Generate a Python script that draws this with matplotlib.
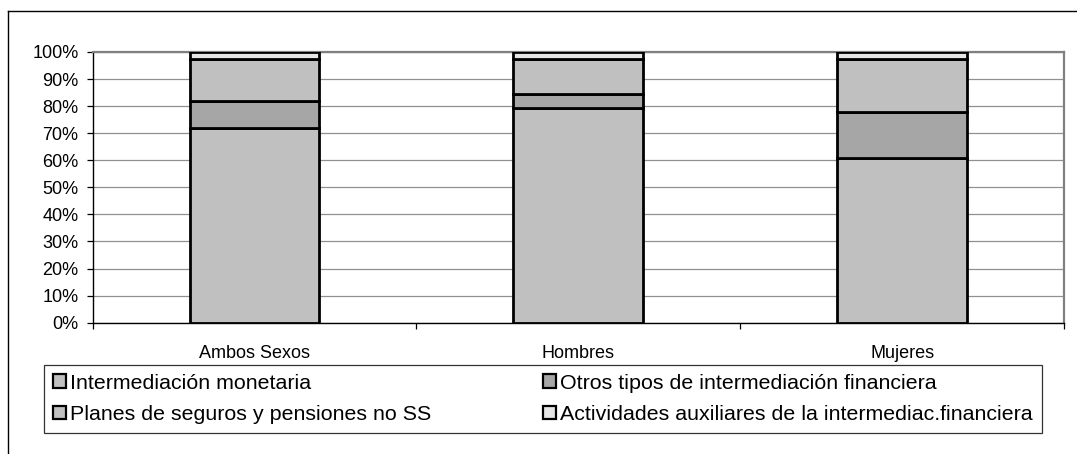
import matplotlib
matplotlib.use("Agg")
import matplotlib.pyplot as plt
from matplotlib.lines import Line2D
import numpy as np

plt.rcParams['font.family'] = ['Liberation Sans', 'DejaVu Sans']

categories = ["Ambos Sexos", "Hombres", "Mujeres"]
series_names = [
    "Intermediación monetaria",
    "Otros tipos de intermediación financiera",
    "Planes de seguros y pensiones no SS",
    "Actividades auxiliares de la intermediac.financiera",
]
intermediacion = [71.8, 79.3, 61.0]
otros = [10.0, 5.1, 16.8]
planes = [15.6, 13.0, 19.5]
actividades = [2.6, 2.6, 2.7]
series_values = [intermediacion, otros, planes, actividades]
colors = ["#C0C0C0", "#A6A6A6", "#C0C0C0", "#E6E6E6"]
yticks = list(range(0, 101, 10))

W, H = 1077, 454
fig = plt.figure(figsize=(W / 100, H / 100), dpi=100)
ax = fig.add_axes([92.5 / W, (H - 322.7) / H, (1064 - 92.5) / W, (322.7 - 52) / H])

x = np.arange(len(categories))
bottom = np.zeros(len(categories))
handles = []
for name, vals, col in zip(series_names, series_values, colors):
    b = ax.bar(x, vals, width=0.4, bottom=bottom, color=col, edgecolor="black",
               linewidth=2.0, label=name, zorder=3)
    handles.append(b)
    bottom = bottom + np.array(vals)

ax.set_xlim(-0.5, 2.5)
ax.set_ylim(0, 100)
ax.set_yticks(yticks)
ax.set_yticklabels([f"{v}%" for v in yticks], fontsize=13)
ax.yaxis.grid(True, color="#909090", linewidth=0.9, zorder=0)
ax.set_axisbelow(True)

ax.set_xticks([-0.5, 0.5, 1.5, 2.5])
ax.set_xticklabels([])
ax.set_xticks(x, minor=True)
ax.set_xticklabels(categories, minor=True, fontsize=13)
ax.tick_params(axis="x", which="minor", length=0, pad=16)
ax.tick_params(axis="x", which="major", length=4, width=0.9, direction="out")
ax.tick_params(axis="y", length=4, width=0.9, direction="out", pad=6)

for s in ["left", "bottom"]:
    ax.spines[s].set_color("black")
    ax.spines[s].set_linewidth(1.0)
for s in ["top", "right"]:
    ax.spines[s].set_color("#808080")
    ax.spines[s].set_linewidth(1.6)

# legend order: row-major as in reference
order = [0, 2, 1, 3]
leg = fig.legend([handles[i] for i in order], [series_names[i] for i in order],
                 ncol=2, loc="lower left", mode="expand",
                 bbox_to_anchor=(44 / W, (H - 433) / H, 998 / W, 68 / H),
                 bbox_transform=fig.transFigure, borderaxespad=0,
                 fontsize=15.4, frameon=True, fancybox=False,
                 handlelength=0.6, handleheight=0.6, handletextpad=0.2,
                 labelspacing=0.58, borderpad=0.42, columnspacing=1.0)
leg.get_frame().set_edgecolor("black")
leg.get_frame().set_linewidth(0.9)
for p in leg.get_patches():
    p.set_linewidth(1.6)

# outer chart border (top and left visible)
fig.add_artist(Line2D([7.5 / W, 1.0], [(H - 10.5) / H, (H - 10.5) / H],
                      transform=fig.transFigure, color="black", linewidth=1.0))
fig.add_artist(Line2D([7.5 / W, 7.5 / W], [0, (H - 10.5) / H],
                      transform=fig.transFigure, color="black", linewidth=1.0))

fig.savefig("out.png", dpi=100)
